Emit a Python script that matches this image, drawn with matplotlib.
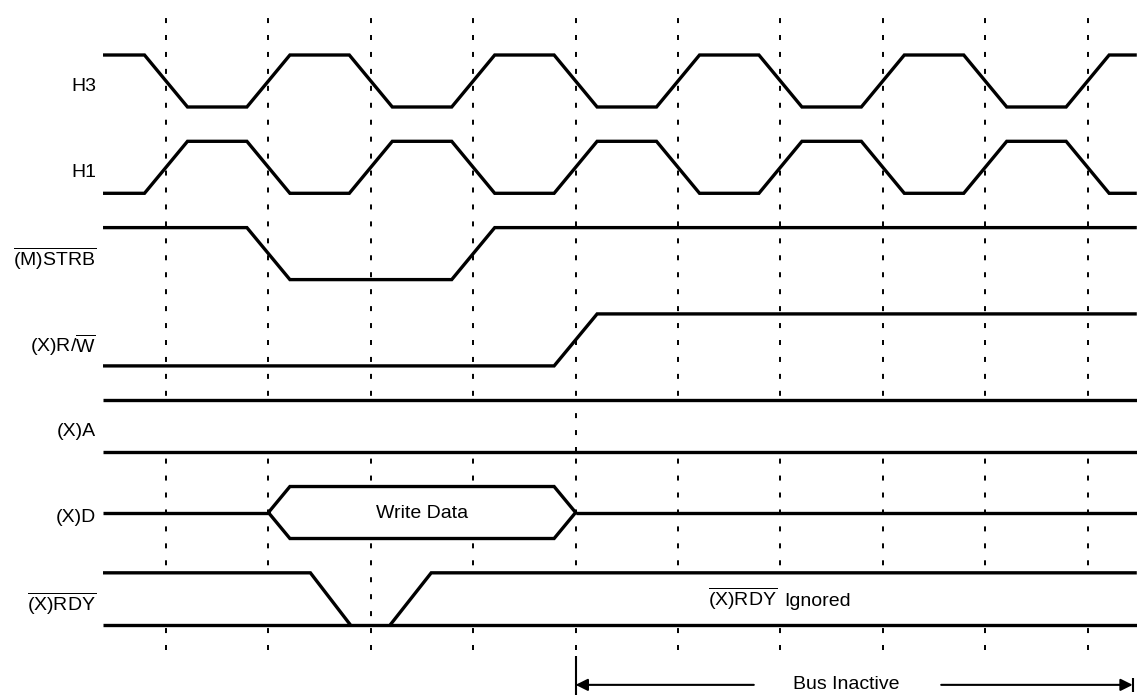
import matplotlib
matplotlib.use('Agg')
import matplotlib.pyplot as plt
import numpy as np

plt.rcParams['font.family'] = 'Liberation Sans'
plt.rcParams['mathtext.fontset'] = 'custom'
plt.rcParams['mathtext.rm'] = 'Liberation Sans'
plt.rcParams['mathtext.it'] = 'Liberation Sans:italic'
plt.rcParams['mathtext.bf'] = 'Liberation Sans:bold'
plt.rcParams['lines.scale_dashes'] = False

############# DATA #############
# signal names, top to bottom
signals = ['H3', 'H1', r'$\overline{\mathrm{(M)STRB}}$', r'(X)R/$\overline{\mathrm{W}}$',
           '(X)A', '(X)D', r'$\overline{\mathrm{(X)RDY}}$']

# time in units of the dashed grid lines (half a clock period each)
grid_times = np.arange(0, 10)
t_start, t_end = -0.615, 9.48

clock_edges = np.arange(0, 10)   # H3 / H1 toggle on every grid line
h3_init, h1_init = 1, 0
strb_init, strb_edges = 1, [1, 3]
rw_init, rw_edges = 0, [4]

data_window = (1.0, 4.0)         # write data on (X)D
data_label = 'Write Data'

rdy_fall = (1.41, 1.80)          # (X)RDY goes low
rdy_rise = (2.19, 2.59)          # (X)RDY released
rdy_note = [r'$\overline{\mathrm{(X)RDY}}$', 'Ignored']
rdy_note_t = 6.0

inactive_span = (4.0, 9.44)
inactive_label = 'Bus Inactive'
inactive_label_t = 6.64

############# LAYOUT #############
slew = 0.21        # half width of a transition
row_pitch = 1.66   # distance between signal rows (1 = high-low swing)
lw = 2.4
fs = 14
dash = (0, (3.6, 8.6))


def wave(init, edges):
    xs, ys = [t_start], [init]
    lvl = init
    for e in edges:
        xs += [e - slew, e + slew]
        ys += [lvl, 1 - lvl]
        lvl = 1 - lvl
    xs.append(t_end)
    ys.append(lvl)
    return np.array(xs), np.array(ys)


fig = plt.figure(figsize=(11.37, 6.95), dpi=100)
ax = fig.add_axes([0, 0, 1, 1])
ax.set_xlim(-1.621, 9.482)
ax.set_ylim(-11.31, 2.058)
ax.axis('off')

base = [-i * row_pitch for i in range(len(signals))]

# dashed grid (bus bands are painted white over it)
ax.vlines(grid_times, -10.44, 1.81, colors='black', linewidth=1.4,
          linestyles=dash, zorder=1)

# labels
for i, name in enumerate(signals):
    ax.text(-0.684, base[i] + 0.40, name, ha='right', va='center', fontsize=fs)

sig = dict(color='black', linewidth=lw, solid_joinstyle='miter', solid_capstyle='butt', zorder=3)
blank = dict(color='white', linewidth=0, zorder=2)

# clocks
x, y = wave(h3_init, clock_edges)
ax.plot(x, y + base[0], **sig)
x, y = wave(h1_init, clock_edges)
ax.plot(x, y + base[1], **sig)

# strobe and r/w
x, y = wave(strb_init, strb_edges)
ax.plot(x, y + base[2], **sig)
x, y = wave(rw_init, rw_edges)
ax.plot(x, y + base[3], **sig)

# address bus
ax.fill_between([t_start, t_end], base[4], base[4] + 1, **blank)
ax.vlines(inactive_span[0], base[4], base[4] + 1, colors='black', linewidth=1.4,
          linestyles=dash, zorder=2.5)
ax.plot([t_start, t_end], [base[4] + 1, base[4] + 1], **sig)
ax.plot([t_start, t_end], [base[4], base[4]], **sig)

# data bus
d0, d1 = data_window
box_x = [d0, d0 + slew, d1 - slew, d1, d1 - slew, d0 + slew, d0]
box_y = np.array([0.5, 1, 1, 0.5, 0, 0, 0.5]) + base[5]
ax.fill(box_x, box_y, **blank)
ax.plot([t_start, d0], [base[5] + 0.5] * 2, **sig)
ax.plot(box_x, box_y, **sig)
ax.plot([d1, t_end], [base[5] + 0.5] * 2, **sig)
ax.text((d0 + d1) / 2, base[5] + 0.48, data_label, ha='center', va='center',
        fontsize=fs, zorder=4)

# ready
r_hi1_x = [t_start, rdy_fall[0], rdy_fall[1]]
r_hi1_y = np.array([1, 1, 0]) + base[6]
r_hi2_x = [rdy_rise[0], rdy_rise[1], t_end]
r_hi2_y = np.array([0, 1, 1]) + base[6]
ax.fill(r_hi1_x + [t_start], list(r_hi1_y) + [base[6]], **blank)
ax.fill(r_hi2_x + [t_end], list(r_hi2_y) + [base[6]], **blank)
ax.plot(r_hi1_x, r_hi1_y, **sig)
ax.plot(r_hi2_x, r_hi2_y, **sig)
ax.plot([t_start, t_end], [base[6], base[6]], **sig)
ax.text(rdy_note_t - 0.03, base[6] + 0.37, rdy_note[0], ha='right', va='baseline',
        fontsize=fs, zorder=4)
ax.text(rdy_note_t + 0.04, base[6] + 0.37, rdy_note[1], ha='left', va='baseline',
        fontsize=fs, zorder=4)

# bus inactive arrow
ya = -11.115
a0, a1 = inactive_span
ax.vlines(a0, -11.31, -10.56, colors='black', linewidth=1.5)
ax.vlines(a1, -11.25, -10.98, colors='black', linewidth=1.5)
arr = dict(arrowstyle='-|>', lw=1.5, color='black', mutation_scale=18, shrinkA=0, shrinkB=0)
ax.annotate('', xy=(a0, ya), xytext=(5.74, ya), arrowprops=arr)
ax.annotate('', xy=(a1, ya), xytext=(7.57, ya), arrowprops=arr)
ax.text(inactive_label_t, ya, inactive_label, ha='center', va='center', fontsize=fs)

fig.savefig('out.png', dpi=100, facecolor='white')
